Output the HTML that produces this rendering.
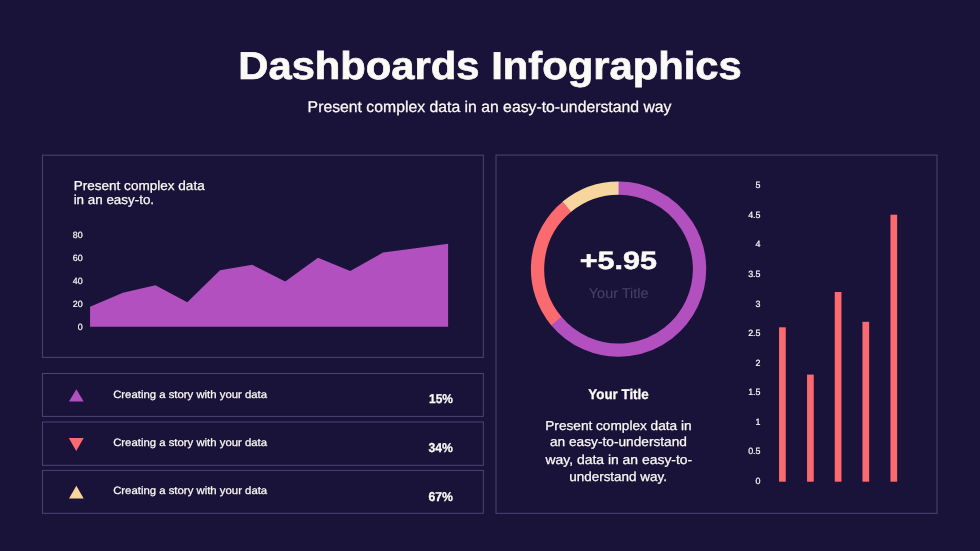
<!DOCTYPE html>
<html lang="en">
<head>
<meta charset="utf-8">
<title>Dashboards Infographics</title>
<style>
  html,body{margin:0;padding:0;}
  body{width:980px;height:551px;background:#1a1339;overflow:hidden;position:relative;
       font-family:"Liberation Sans",sans-serif;color:#fbfaf6;text-rendering:geometricPrecision;}
  .abs{position:absolute;}
  h1,h2,p,ul,li{margin:0;padding:0;font-weight:normal;list-style:none;}
  .t{position:absolute;left:0;top:0;margin:0;padding:0;display:block;white-space:nowrap;line-height:1;font-weight:normal;transform-origin:0 0;}
  .ax{font-size:9px;-webkit-text-stroke:0.2px #fbfaf6;text-align:right;width:30px;left:0;top:0;transform-origin:100% 0;}
</style>
</head>
<body>
<svg class="abs" style="left:0;top:0;" width="980" height="551" viewBox="0 0 980 551">
  <!-- panels -->
  <g fill="none" stroke="#4b4574" stroke-width="1">
    <rect x="42.45" y="155.2" width="440.9" height="202.15"/>
    <rect x="42.45" y="373.5" width="440.9" height="42.9"/>
    <rect x="42.45" y="422" width="440.9" height="43.3"/>
    <rect x="42.45" y="470.4" width="440.9" height="42.9"/>
    <rect x="496" y="155.1" width="441" height="358.25"/>
  </g>
  <!-- area chart -->
  <polygon fill="#b250c0" points="90.05,326.7 90.05,306.7 122.9,292.8 155.4,285.25 187.3,302.25 220,270.35 252.3,264.8 285.25,281.5 318,257.8 350.2,271 383,252.6 415.45,248.15 448.1,243.7 448.1,326.7"/>
  <!-- triangles -->
  <polygon fill="#b250c0" points="69,401.6 83.7,401.6 76.35,389.3"/>
  <polygon fill="#fb6a6f" points="68.8,437.9 83.7,437.9 76.25,451"/>
  <polygon fill="#f7d59f" points="69,498.5 83.7,498.5 76.35,485.7"/>
  <!-- donut -->
  <g fill="none" stroke-width="13.3">
    <path stroke="#b250c0" d="M617.98 188.10A81 81 0 1 1 555.91 320.46"/>
    <path stroke="#fb6a6f" d="M556.27 320.89A81 81 0 0 1 567.36 206.33"/>
    <path stroke="#f7d59f" d="M566.92 206.69A81 81 0 0 1 618.55 188.10"/>
  </g>
  <!-- bars -->
  <g fill="#fb6a6f">
    <rect x="779.05" y="327.3" width="6.7" height="154.4"/>
    <rect x="807.05" y="374.6" width="6.7" height="107.1"/>
    <rect x="834.75" y="292" width="6.7" height="189.7"/>
    <rect x="862.45" y="321.8" width="6.7" height="159.9"/>
    <rect x="890.45" y="214.7" width="6.7" height="267"/>
  </g>
</svg>

<header>
<h1 class="t" id="title" style="font-size:38.80px;transform:translate(238.25px,48.06px) scaleX(1.0763);font-weight:bold;-webkit-text-stroke:0.7px #fbfaf6;">Dashboards Infographics</h1>
<p class="t" id="sub" style="font-size:15.60px;transform:translate(307.62px,100.30px) scaleX(1.0114);-webkit-text-stroke:0.25px #fbfaf6;">Present complex data in an easy-to-understand way</p>
</header>
<section class="area-card">
<p class="t" id="lp1" style="font-size:13.00px;transform:translate(73.67px,178.51px) scaleX(1.0420);-webkit-text-stroke:0.25px #fbfaf6;">Present complex data</p>
<p class="t" id="lp2" style="font-size:13.00px;transform:translate(73.63px,193.17px) scaleX(1.0309);-webkit-text-stroke:0.25px #fbfaf6;">in an easy-to.</p>
<span class="t ax" style="transform:translate(52.70px,231px) scaleX(0.99);">80</span>
<span class="t ax" style="transform:translate(52.70px,254px) scaleX(0.99);">60</span>
<span class="t ax" style="transform:translate(52.70px,277px) scaleX(0.99);">40</span>
<span class="t ax" style="transform:translate(52.70px,300px) scaleX(0.99);">20</span>
<span class="t ax" style="transform:translate(52.70px,323px) scaleX(0.99);">0</span>
</section>
<ul class="stats">
<li><span class="t" id="row1" style="font-size:10.70px;transform:translate(113.13px,390.12px) scaleX(1.0618);-webkit-text-stroke:0.25px #fbfaf6;">Creating a story with your data</span>
<b class="t" id="pct1" style="font-size:12.90px;transform:translate(429.03px,393.46px) scaleX(0.9258);font-weight:bold;-webkit-text-stroke:0.3px #fbfaf6;">15%</b>
</li>
<li><span class="t" id="row2" style="font-size:10.70px;transform:translate(113.15px,438.18px) scaleX(1.0615);-webkit-text-stroke:0.25px #fbfaf6;">Creating a story with your data</span>
<b class="t" id="pct2" style="font-size:12.90px;transform:translate(428.53px,442.18px) scaleX(0.9459);font-weight:bold;-webkit-text-stroke:0.3px #fbfaf6;">34%</b>
</li>
<li><span class="t" id="row3" style="font-size:10.70px;transform:translate(113.13px,486.12px) scaleX(1.0628);-webkit-text-stroke:0.25px #fbfaf6;">Creating a story with your data</span>
<b class="t" id="pct3" style="font-size:12.90px;transform:translate(428.42px,491.44px) scaleX(0.9479);font-weight:bold;-webkit-text-stroke:0.3px #fbfaf6;">67%</b>
</li>
</ul>
<section class="summary-card">
<strong class="t" id="big" style="font-size:25.20px;transform:translate(579.63px,248.98px) scaleX(1.2125);font-weight:bold;-webkit-text-stroke:0.5px #fbfaf6;">+5.95</strong>
<span class="t" id="dim" style="font-size:14.30px;transform:translate(588.81px,286.52px) scaleX(1.0108);color:#48426a;">Your Title</span>
<h2 class="t" id="yt" style="font-size:14.05px;transform:translate(588.32px,387.06px) scaleX(0.9513);font-weight:bold;-webkit-text-stroke:0.3px #fbfaf6;">Your Title</h2>
<p><span class="t" id="p1" style="font-size:13.00px;transform:translate(545.28px,418.90px) scaleX(1.0486);-webkit-text-stroke:0.25px #fbfaf6;">Present complex data in</span>
<span class="t" id="p2" style="font-size:13.00px;transform:translate(549.96px,435.23px) scaleX(1.0531);-webkit-text-stroke:0.25px #fbfaf6;">an easy-to-understand</span>
<span class="t" id="p3" style="font-size:13.00px;transform:translate(545.49px,453.45px) scaleX(1.0708);-webkit-text-stroke:0.25px #fbfaf6;">way, data in an easy-to-</span>
<span class="t" id="p4" style="font-size:13.00px;transform:translate(569.24px,470.26px) scaleX(1.0345);-webkit-text-stroke:0.25px #fbfaf6;">understand way.</span>
</p>
<span class="t ax" style="transform:translate(730.55px,181px) scaleX(0.99);">5</span>
<span class="t ax" style="transform:translate(730.55px,211px) scaleX(0.99);">4.5</span>
<span class="t ax" style="transform:translate(730.55px,240px) scaleX(0.99);">4</span>
<span class="t ax" style="transform:translate(730.55px,270px) scaleX(0.99);">3.5</span>
<span class="t ax" style="transform:translate(730.55px,300px) scaleX(0.99);">3</span>
<span class="t ax" style="transform:translate(730.55px,329px) scaleX(0.99);">2.5</span>
<span class="t ax" style="transform:translate(730.55px,359px) scaleX(0.99);">2</span>
<span class="t ax" style="transform:translate(730.55px,388px) scaleX(0.99);">1.5</span>
<span class="t ax" style="transform:translate(730.55px,418px) scaleX(0.99);">1</span>
<span class="t ax" style="transform:translate(730.55px,447px) scaleX(0.99);">0.5</span>
<span class="t ax" style="transform:translate(730.55px,477px) scaleX(0.99);">0</span>
</section>
</body>
</html>
